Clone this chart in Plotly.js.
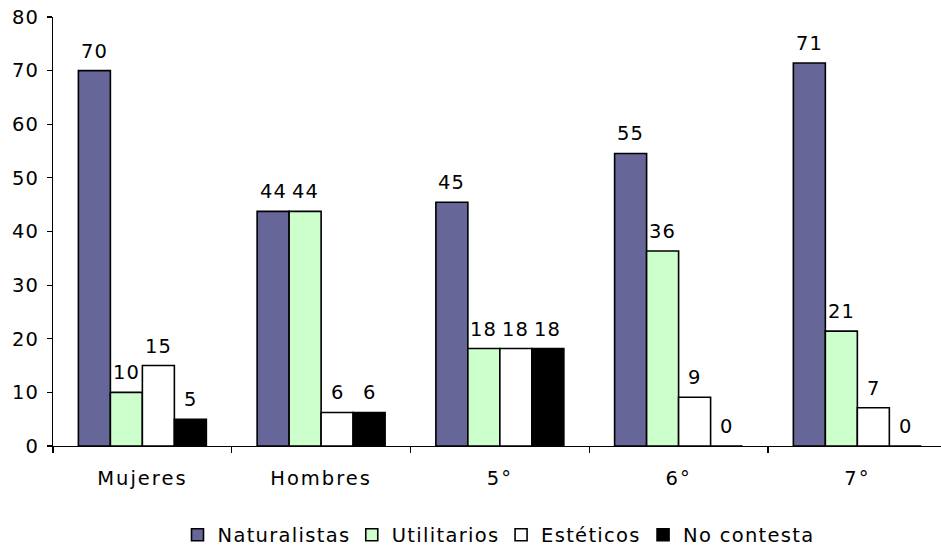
<!DOCTYPE html>
<html>
<head>
<meta charset="utf-8">
<script src="https://cdn.plot.ly/plotly-3.0.1.min.js"></script>
<style>
  html, body { margin: 0; padding: 0; background: #fff; overflow: hidden; }
  svg text { letter-spacing: 1px; }
  svg .xtick text { letter-spacing: 2px; }
  svg .legend text { letter-spacing: 1.3px; }
</style>
</head>
<body>
<div id="chart" style="width:941px;height:546px;"></div>
<script>
const categories = ['Mujeres', 'Hombres', '5°', '6°', '7°'];
const seriesNames = ['Naturalistas', 'Utilitarios', 'Estéticos', 'No contesta'];
const naturalistas = [70, 43.75, 45.45, 54.55, 71.43];
const utilitarios = [10, 43.75, 18.18, 36.36, 21.43];
const esteticos = [15, 6.25, 18.18, 9.09, 7.14];
const noContesta = [5, 6.25, 18.18, 0, 0];
const yTicks = [0, 10, 20, 30, 40, 50, 60, 70, 80];

const seriesValues = [naturalistas, utilitarios, esteticos, noContesta];
const colors = ['#666699', '#CCFFCC', '#FFFFFF', '#000000'];
const FONT = 'DejaVu Sans, Verdana, sans-serif';
const FS = 19.5;
const bargap = 0.284;

const traces = seriesValues.map((vals, j) => ({
  type: 'bar',
  name: seriesNames[j],
  x: categories,
  y: vals,
  marker: { color: colors[j], line: { color: '#000', width: 1.6 } },
  hoverinfo: 'skip'
}));

// value labels placed above each bar using the same grouping geometry
const nS = seriesValues.length;
const barW = (1 - bargap) / nS;
const annotations = [];
seriesValues.forEach((vals, j) => {
  const off = -(1 - bargap) / 2 + (j + 0.5) * barW;
  vals.forEach((v, i) => {
    annotations.push({
      x: i + off, y: v, xref: 'x', yref: 'y',
      text: String(Math.round(v)),
      showarrow: false, yanchor: 'bottom', xanchor: 'center',
      yshift: 6,
      font: { family: FONT, size: FS, color: '#000' }
    });
  });
});

const layout = {
  width: 941, height: 546,
  margin: { l: 53, r: 0, t: 17, b: 100 },
  paper_bgcolor: '#fff', plot_bgcolor: '#fff',
  barmode: 'group', bargap: bargap, bargroupgap: 0,
  font: { family: FONT, size: FS, color: '#000' },
  showlegend: true,
  legend: {
    orientation: 'h', x: 0.5, xanchor: 'center',
    yref: 'container', y: 0.02, yanchor: 'middle',
    font: { family: FONT, size: FS, color: '#000' },
    itemclick: false, itemdoubleclick: false
  },
  xaxis: {
    type: 'category', range: [-0.5, 4.468],
    showline: true, linecolor: '#000', linewidth: 1.2,
    ticks: 'outside', tickson: 'boundaries', ticklen: 6, tickcolor: '#000', tickwidth: 1.2,
    ticklabelstandoff: 14,
    showgrid: false, zeroline: false, fixedrange: true,
    tickfont: { family: FONT, size: FS, color: '#000' }
  },
  yaxis: {
    range: [0, 80], tickvals: yTicks, ticktext: yTicks.map(String),
    showline: true, linecolor: '#000', linewidth: 1.2,
    ticks: 'outside', ticklen: 5, tickcolor: '#000', tickwidth: 1.2,
    ticklabelstandoff: 4,
    showgrid: false, zeroline: false, fixedrange: true,
    tickfont: { family: FONT, size: FS, color: '#000' }
  },
  annotations: annotations
};

Plotly.newPlot('chart', traces, layout, { displayModeBar: false, staticPlot: true });
</script>
</body>
</html>
